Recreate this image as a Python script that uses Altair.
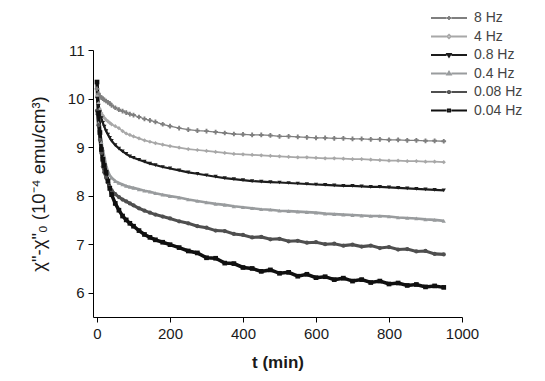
import altair as alt
import pandas as pd

SERIES = ["8 Hz", "4 Hz", "0.8 Hz", "0.4 Hz", "0.08 Hz", "0.04 Hz"]
COLORS = ["#7f7f7f", "#a8a8a8", "#1c1c1c", "#999c9e", "#4f4f4f", "#101010"]
MARKERS = ["cross", "diamond", "triangle-down", "triangle-up", "circle", "square"]
MARKER_SIZES = [22, 18, 18, 18, 18, 22]

T = [0, 4, 8, 12, 16, 20, 25, 30, 35, 40, 50, 60, 70, 80, 90, 100, 115, 130, 145, 160, 180, 200,
     225, 250, 275, 300, 325, 350, 375, 400, 425, 450, 475, 500, 525, 550, 575, 600, 625, 650,
     675, 700, 725, 750, 775, 800, 825, 850, 875, 900, 925, 950]

HZ8 = [10.2, 10.1, 10.05, 10.02, 10.0, 9.97, 9.95, 9.92, 9.9, 9.86, 9.81, 9.77, 9.74, 9.71, 9.68,
       9.66, 9.62, 9.58, 9.55, 9.52, 9.47, 9.43,
       9.39, 9.36, 9.34, 9.33, 9.31, 9.29, 9.27, 9.26, 9.25, 9.25, 9.24, 9.22, 9.22, 9.21, 9.2,
       9.19, 9.19, 9.18, 9.18, 9.17, 9.17, 9.16, 9.16, 9.15, 9.15, 9.14, 9.14, 9.13, 9.13, 9.12]
HZ4 = [10.05, 9.9, 9.78, 9.7, 9.65, 9.6, 9.56, 9.53, 9.5, 9.47, 9.43, 9.39, 9.33, 9.28, 9.25,
       9.22, 9.18, 9.14, 9.11, 9.08, 9.05, 9.02,
       8.99, 8.96, 8.94, 8.92, 8.9, 8.88, 8.86, 8.85, 8.84, 8.83, 8.82, 8.81, 8.8, 8.79, 8.79,
       8.78, 8.77, 8.77, 8.76, 8.75, 8.75, 8.74, 8.73, 8.72, 8.72, 8.71, 8.71, 8.7, 8.7, 8.69]
HZ08 = [10.0, 9.85, 9.72, 9.6, 9.5, 9.42, 9.33, 9.26, 9.19, 9.13, 9.04, 8.97, 8.91, 8.86, 8.81,
        8.78, 8.74, 8.7, 8.66, 8.63, 8.59, 8.56,
        8.52, 8.48, 8.45, 8.42, 8.39, 8.36, 8.34, 8.32, 8.3, 8.29, 8.28, 8.27, 8.26, 8.25, 8.24,
        8.23, 8.22, 8.21, 8.2, 8.2, 8.19, 8.18, 8.18, 8.17, 8.16, 8.15, 8.14, 8.13, 8.12, 8.11]
HZ04 = [9.7, 9.5, 9.3, 9.1, 8.95, 8.8, 8.62, 8.5, 8.42, 8.37, 8.3, 8.26, 8.23, 8.2, 8.18,
        8.16, 8.13, 8.1, 8.08, 8.05, 8.02, 7.99,
        7.96, 7.92, 7.89, 7.86, 7.83, 7.81, 7.78, 7.76, 7.74, 7.72, 7.71, 7.69, 7.68, 7.67, 7.66,
        7.65, 7.63, 7.62, 7.61, 7.6, 7.59, 7.58, 7.58, 7.57, 7.55, 7.54, 7.53, 7.51, 7.5, 7.48]
HZ008 = [9.75, 9.45, 9.15, 8.88, 8.6, 8.48, 8.37, 8.27, 8.18, 8.11, 8.03, 7.97, 7.92, 7.88, 7.84,
         7.8, 7.74, 7.69, 7.65, 7.61, 7.57, 7.53,
         7.47, 7.43, 7.37, 7.34, 7.28, 7.27, 7.21, 7.19, 7.14, 7.15, 7.1, 7.11, 7.06, 7.07, 7.03,
         7.04, 7.0, 7.01, 6.97, 6.99, 6.95, 6.97, 6.92, 6.94, 6.89, 6.9, 6.85, 6.86, 6.8, 6.79]
HZ004 = [10.34, 9.7, 9.3, 8.95, 8.75, 8.62, 8.48, 8.3, 8.15, 8.02, 7.84, 7.7, 7.58, 7.5, 7.43,
         7.37, 7.28, 7.2, 7.14, 7.09, 7.04, 6.99,
         6.93, 6.86, 6.82, 6.72, 6.71, 6.61, 6.6, 6.52, 6.5, 6.44, 6.47, 6.4, 6.42, 6.34, 6.38,
         6.31, 6.33, 6.27, 6.3, 6.24, 6.27, 6.21, 6.24, 6.18, 6.2, 6.15, 6.17, 6.12, 6.14, 6.11]

VALUES = [HZ8, HZ4, HZ08, HZ04, HZ008, HZ004]

rows = []
for s, vals in zip(SERIES, VALUES):
    for t, v in zip(T, vals):
        rows.append({"series": s, "t": t, "value": v})
df = pd.DataFrame(rows)

# legend symbols: line - marker - line
LEG_PATHS = [
    "M-3,0H-0.4M0.4,0H3M-0.35,0H0.35M0,-0.35V0.35",
    "M-3,0H-0.4M0.4,0H3M0,-0.3L0.3,0L0,0.3L-0.3,0Z",
    "M-3,0H-0.4M0.4,0H3M0,0.3L0.3,-0.2H-0.3Z",
    "M-3,0H-0.4M0.4,0H3M0,-0.3L0.3,0.2H-0.3Z",
    "M-3,0H-0.4M0.4,0H3M-0.2,0A0.2,0.2,0,1,0,0.2,0A0.2,0.2,0,1,0,-0.2,0Z",
    "M-3,0H-0.4M0.4,0H3M-0.2,-0.2H0.2V0.2H-0.2Z",
]

FONT = "Liberation Sans"

x_enc = alt.X(
    "t:Q",
    scale=alt.Scale(domain=[-11, 1000], nice=False, zero=False),
    axis=alt.Axis(
        values=list(range(0, 1001, 100)),
        labelExpr="datum.value % 200 === 0 ? format(datum.value, 'd') : ''",
        tickSize={"condition": {"test": "datum.value % 200 === 0", "value": 5}, "value": 3},
        labelFlush=False,
        grid=False,
        title="t (min)",
        titleFontWeight="bold",
        titleFontSize=17,
        titlePadding=13,
        labelPadding=4,
    ),
)
y_enc = alt.Y(
    "value:Q",
    scale=alt.Scale(domain=[5.5, 11], nice=False, zero=False),
    axis=alt.Axis(
        values=[6, 6.5, 7, 7.5, 8, 8.5, 9, 9.5, 10, 10.5, 11],
        labelExpr="datum.value % 1 === 0 ? format(datum.value, 'd') : ''",
        tickSize={"condition": {"test": "datum.value % 1 === 0", "value": 5}, "value": 3},
        labelFlush=False,
        grid=False,
        title='χ"-χ"₀  (10⁻⁴ emu/cm³)',
        titleFontWeight="normal",
        titleFontSize=18.5,
        titlePadding=19,
        labelPadding=4,
    ),
)

color_enc = alt.Color("series:N", scale=alt.Scale(domain=SERIES, range=COLORS), legend=None)

lines = alt.Chart(df).mark_line().encode(
    x=x_enc, y=y_enc, color=color_enc,
    strokeWidth=alt.StrokeWidth("series:N", scale=alt.Scale(domain=SERIES, range=[1.3, 3.5, 3.5, 3.5, 3.5, 3.2]), legend=None),
    order="t:Q",
)

point_layers = []
for s, c, m, sz in zip(SERIES, COLORS, MARKERS, MARKER_SIZES):
    point_layers.append(
        alt.Chart(df)
        .transform_filter(alt.datum.series == s)
        .mark_point(filled=True, opacity=1, shape=m, size=sz, color=c)
        .encode(x="t:Q", y="value:Q")
    )

legend_layer = alt.Chart(df).transform_filter("false").mark_point(filled=False, opacity=1).encode(
    x="t:Q", y="value:Q",
    shape=alt.Shape("series:N", scale=alt.Scale(domain=SERIES, range=LEG_PATHS), legend=alt.Legend(title=None)),
    stroke=alt.Stroke("series:N", scale=alt.Scale(domain=SERIES, range=COLORS), legend=alt.Legend(title=None)),
)

chart = (
    alt.layer(lines, *point_layers, legend_layer)
    .resolve_scale(shape="independent", stroke="independent")
    .properties(
        width=369,
        height=267,
        autosize=alt.AutoSizeParams(type="none"),
        padding={"left": 85, "top": 42, "right": 75, "bottom": 56},
        background="white",
    )
    .configure_view(stroke=None)
    .configure_axis(
        domainColor="#000000",
        domainWidth=1,
        tickColor="#000000",
        tickWidth=1,
        labelFont=FONT,
        labelFontSize=15,
        labelColor="#1a1a1a",
        titleFont=FONT,
        titleColor="#1a1a1a",
    )
    .configure_legend(
        orient="none",
        legendX=349,
        legendY=-39,
        padding=0,
        labelFont=FONT,
        labelFontSize=14,
        labelColor="#444444",
        labelOffset=18,
        rowPadding=4.5,
        symbolSize=144,
        symbolStrokeWidth=1.8,
        symbolOpacity=1,
    )
)

chart.save("out.html", embed_options={"renderer": "svg", "actions": False})
